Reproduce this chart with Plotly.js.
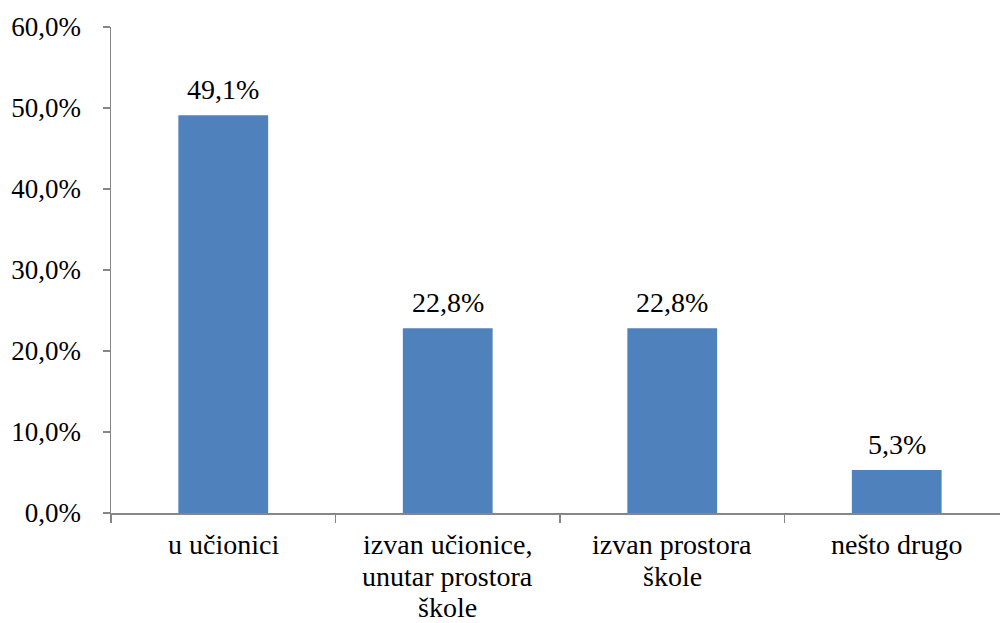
<!DOCTYPE html>
<html>
<head>
<meta charset="utf-8">
<script src="https://cdn.plot.ly/plotly-3.0.1.min.js"></script>
<style>html,body{margin:0;padding:0;background:#fff;}#chart{width:1000px;height:623px;}</style>
</head>
<body>
<div id="chart"></div>
<script>
const categories = ["u učionici", "izvan učionice,<br>unutar prostora<br>škole", "izvan prostora<br>škole", "nešto drugo"];
const values = [0.491, 0.228, 0.228, 0.053];
const valueLabels = ["49,1%", "22,8%", "22,8%", "5,3%"];
const yTicks = [0, 0.1, 0.2, 0.3, 0.4, 0.5, 0.6];

const FAMILY = "Liberation Serif";
const mkFont = (s) => ({family: FAMILY, size: s, color: "#000"});

function buildAnnotations() {
  const ann = [];
  categories.forEach((c, i) => {
    ann.push({
      x: c, y: values[i], xref: "x", yref: "y",
      text: valueLabels[i], showarrow: false,
      yanchor: "bottom", yshift: 8,
      font: mkFont(28)
    });
    c.split("<br>").forEach((line, j) => {
      ann.push({
        x: c, y: 0, xref: "x", yref: "paper",
        text: line, showarrow: false,
        yanchor: "top", yshift: -(14 + j * 31.5),
        font: mkFont(28)
      });
    });
  });
  return ann;
}

function draw() {
  return Plotly.newPlot("chart", [{
    type: "bar",
    x: categories,
    y: values,
    width: 0.4,
    marker: {color: "#4F81BD"},
    hoverinfo: "skip"
  }], {
    width: 1000, height: 623,
    margin: {l: 111, r: 0, t: 27, b: 110},
    separators: ",.",
    font: mkFont(27),
    showlegend: false,
    plot_bgcolor: "#fff", paper_bgcolor: "#fff",
    annotations: buildAnnotations(),
    xaxis: {
      type: "category",
      range: [-0.5, 3.46],
      tickson: "boundaries",
      ticks: "outside", ticklen: 8, tickcolor: "#868686", tickwidth: 1.5,
      showline: true, linecolor: "#868686", linewidth: 1.5,
      showgrid: false, zeroline: false,
      showticklabels: false
    },
    yaxis: {
      range: [0, 0.6],
      tickvals: yTicks,
      tickformat: ".1%",
      ticks: "outside", ticklen: 7, tickcolor: "#868686", tickwidth: 1.5,
      showline: true, linecolor: "#868686", linewidth: 1.5,
      showgrid: false, zeroline: false,
      ticklabelstandoff: 16,
      tickfont: mkFont(27)
    }
  }, {staticPlot: true});
}

draw();
if (document.fonts) {
  document.fonts.load('28px "' + FAMILY + '"', "u učionici izvan škole nešto 0123456789,%")
    .then(() => draw()).catch(() => {});
  document.fonts.ready.then(() => draw());
}
</script>
</body>
</html>
